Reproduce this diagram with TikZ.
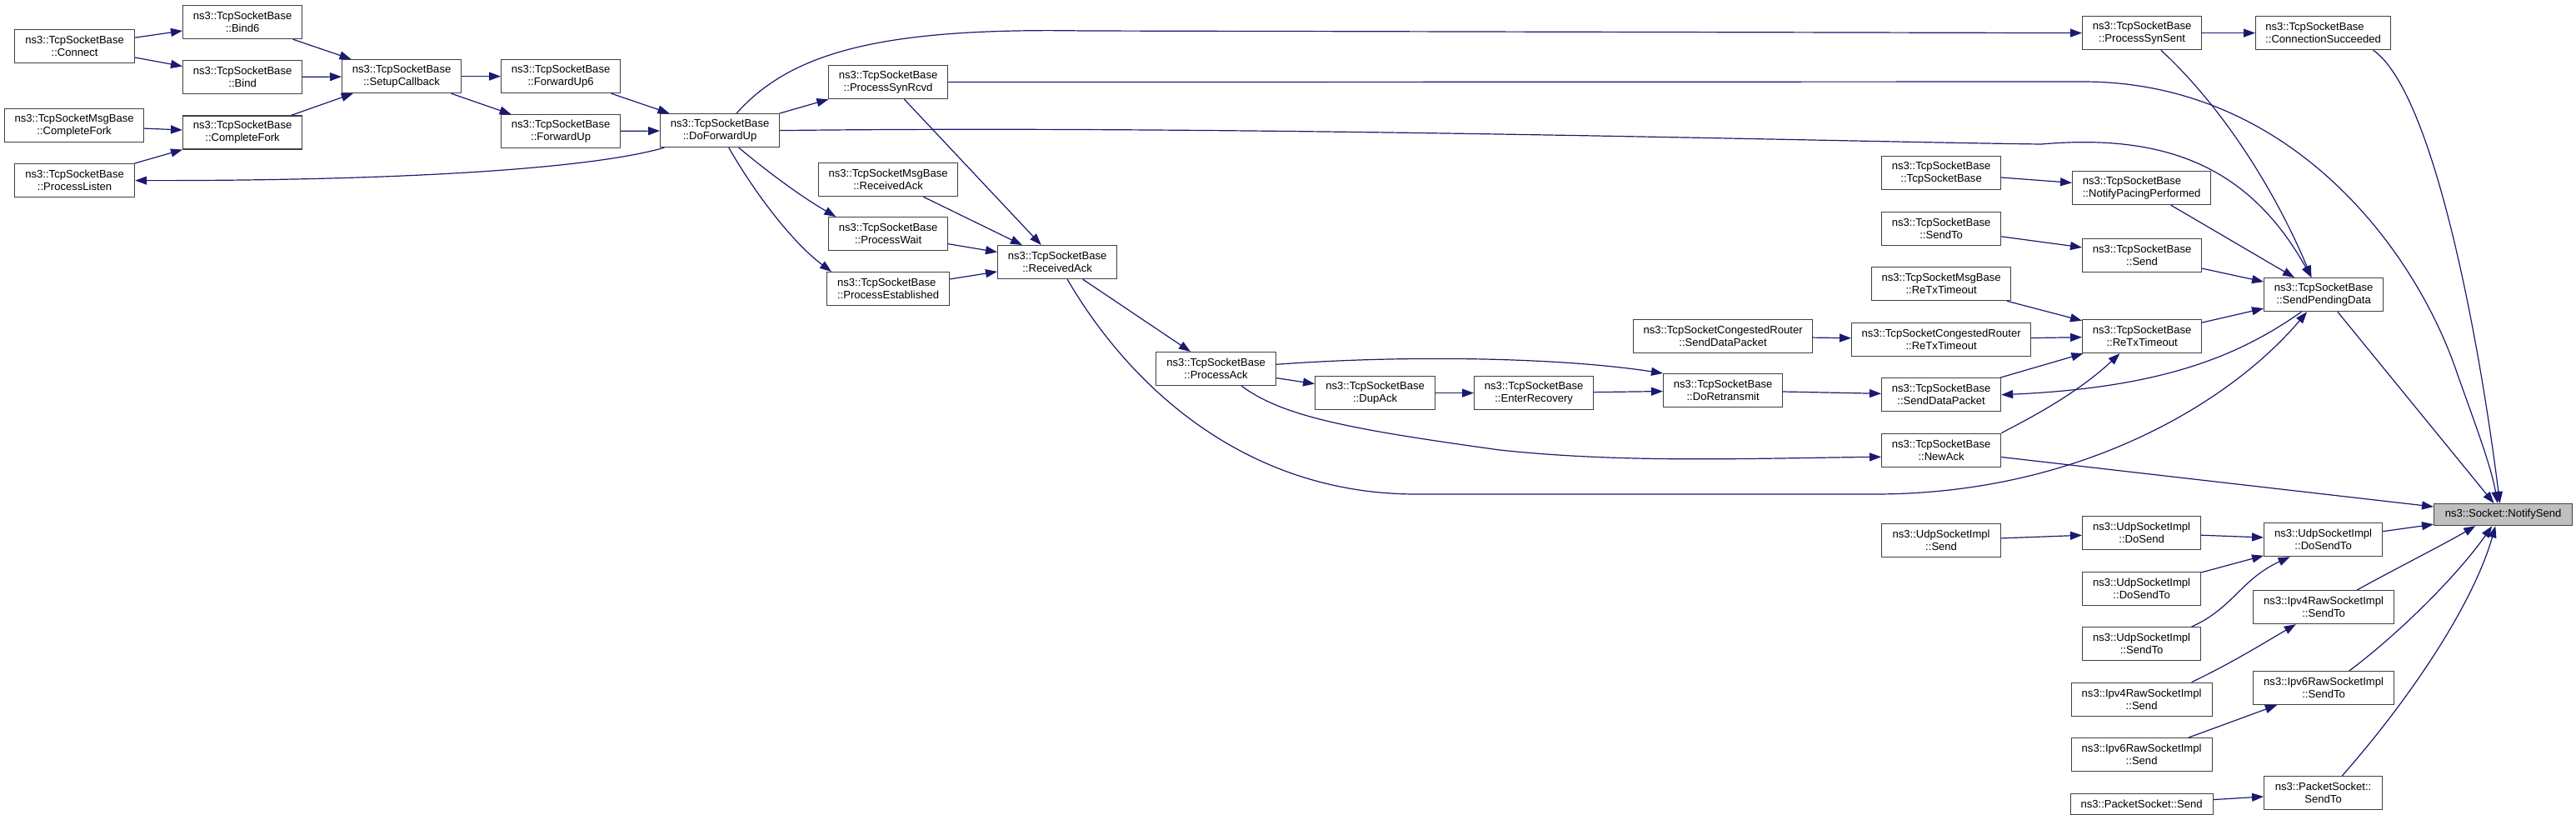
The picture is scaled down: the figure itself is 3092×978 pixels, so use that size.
\documentclass[tikz,border=0pt]{standalone}
\usepackage{fontspec}
\setmainfont{Liberation Sans}
\usetikzlibrary{arrows.meta}
\definecolor{edgeblue}{HTML}{191970}
\definecolor{rootgray}{HTML}{BFBFBF}
\begin{document}
\begin{tikzpicture}[x=0.75pt,y=-0.75pt,>={Triangle[length=10.5pt,width=7.5pt]}]
\begin{scope}

\tikzstyle{funcnode} = [draw=black!75,line width=0.9pt,fill=white,align=center,inner sep=1pt,minimum height=30pt,font=\fontsize{9.8}{11.25}\selectfont];
\tikzstyle{rootnode} = [funcnode,fill=rootgray,minimum height=19.5pt];
\tikzstyle{callline} = [draw=edgeblue,line width=0.9pt];

\useasboundingbox (0,0) rectangle (3092,978);

\node [funcnode,anchor=north west,minimum width=108pt] (connect) at (17,35) {ns3::TcpSocketBase\\::Connect};
\node [funcnode,anchor=north west,minimum width=107.25pt] (bindsix) at (219,6) {ns3::TcpSocketBase\\::Bind6};
\node [funcnode,anchor=north,minimum width=107.25pt] (bind) at ([yshift=-18.75pt]bindsix.south) {ns3::TcpSocketBase\\::Bind};
\node [funcnode,anchor=north,minimum width=107.25pt] (fork) at ([yshift=-18.75pt]bind.south) {ns3::TcpSocketBase\\::CompleteFork};
\node [funcnode,anchor=north west,minimum width=125.25pt] (msgfork) at (5,130) {ns3::TcpSocketMsgBase\\::CompleteFork};
\node [funcnode,anchor=north west,minimum width=108pt] (listen) at (17,196) {ns3::TcpSocketBase\\::ProcessListen};
\node [funcnode,anchor=north west,minimum width=107.25pt] (setup) at (410,71) {ns3::TcpSocketBase\\::SetupCallback};
\node [funcnode,anchor=north west,minimum width=107.25pt] (fwdsix) at (601,71) {ns3::TcpSocketBase\\::ForwardUp6};
\node [funcnode,anchor=north,minimum width=107.25pt] (fwd) at ([yshift=-18.75pt]fwdsix.south) {ns3::TcpSocketBase\\::ForwardUp};
\node [funcnode,anchor=north west,minimum width=107.25pt] (dofwd) at (792,136) {ns3::TcpSocketBase\\::DoForwardUp};

\node [funcnode,anchor=north west,minimum width=107.25pt] (synrcvd) at (994,78) {ns3::TcpSocketBase\\::ProcessSynRcvd};
\node [funcnode,anchor=north west,minimum width=125.25pt] (msgrack) at (982,195) {ns3::TcpSocketMsgBase\\::ReceivedAck};
\node [funcnode,anchor=north west,minimum width=107.25pt] (wait) at (994,260) {ns3::TcpSocketBase\\::ProcessWait};
\node [funcnode,anchor=north west,minimum width=110.25pt,align=left] (estab) at (992,326) {ns3::TcpSocketBase\\::ProcessEstablished};
\node [funcnode,anchor=north west,minimum width=107.25pt] (rack) at (1197,294) {ns3::TcpSocketBase\\::ReceivedAck};
\node [funcnode,anchor=north west,minimum width=108pt] (pack) at (1387,422) {ns3::TcpSocketBase\\::ProcessAck};
\node [funcnode,anchor=north west,minimum width=108pt] (dupack) at (1578,451) {ns3::TcpSocketBase\\::DupAck};
\node [funcnode,anchor=north west,minimum width=107.25pt] (recovery) at (1769,451) {ns3::TcpSocketBase\\::EnterRecovery};
\node [funcnode,anchor=north west,minimum width=161.25pt] (crsend) at (1960,383) {ns3::TcpSocketCongestedRouter\\::SendDataPacket};
\node [funcnode,anchor=north west,minimum width=107.25pt] (retrans) at (1996,448) {ns3::TcpSocketBase\\::DoRetransmit};

\node [funcnode,anchor=north west,minimum width=107.25pt] (tcpbase) at (2258,187) {ns3::TcpSocketBase\\::TcpSocketBase};
\node [funcnode,anchor=north,minimum width=107.25pt] (tcpsendto) at ([yshift=-19pt]tcpbase.south) {ns3::TcpSocketBase\\::SendTo};
\node [funcnode,anchor=north,minimum width=125.25pt] (msgretx) at ([yshift=-19pt]tcpsendto.south) {ns3::TcpSocketMsgBase\\::ReTxTimeout};
\node [funcnode,anchor=north,minimum width=161.25pt] (crretx) at ([yshift=-19pt]msgretx.south) {ns3::TcpSocketCongestedRouter\\::ReTxTimeout};
\node [funcnode,anchor=north,minimum width=107.25pt] (senddata) at ([yshift=-19pt]crretx.south) {ns3::TcpSocketBase\\::SendDataPacket};
\node [funcnode,anchor=north,minimum width=107.25pt] (newack) at ([yshift=-19pt]senddata.south) {ns3::TcpSocketBase\\::NewAck};
\node [funcnode,anchor=north west,minimum width=107.25pt] (udpsend) at (2258,628) {ns3::UdpSocketImpl\\::Send};

\node [funcnode,anchor=north west,minimum width=107.25pt] (synsent) at (2499,19) {ns3::TcpSocketBase\\::ProcessSynSent};
\node [funcnode,anchor=north west,minimum width=124.5pt,align=left] (pacing) at (2487,205) {ns3::TcpSocketBase\\::NotifyPacingPerformed};
\node [funcnode,anchor=north west,minimum width=107.25pt] (tcpsend) at (2499,286) {ns3::TcpSocketBase\\::Send};
\node [funcnode,anchor=north west,minimum width=107.25pt] (retx) at (2499,383) {ns3::TcpSocketBase\\::ReTxTimeout};
\node [funcnode,anchor=north west,minimum width=106.5pt] (udpdosend) at (2499,619) {ns3::UdpSocketImpl\\::DoSend};
\node [funcnode,anchor=north,minimum width=106.5pt] (udpdosendtob) at ([yshift=-19pt]udpdosend.south) {ns3::UdpSocketImpl\\::DoSendTo};
\node [funcnode,anchor=north,minimum width=106.5pt] (udpsendto) at ([yshift=-19pt]udpdosendtob.south) {ns3::UdpSocketImpl\\::SendTo};
\node [funcnode,anchor=north,minimum width=126.75pt] (vfoursend) at ([yshift=-19pt]udpsendto.south) {ns3::Ipv4RawSocketImpl\\::Send};
\node [funcnode,anchor=north,minimum width=126.75pt] (vsixsend) at ([yshift=-19pt]vfoursend.south) {ns3::Ipv6RawSocketImpl\\::Send};
\node [funcnode,anchor=north,minimum width=128.25pt,minimum height=18.75pt] (pktsend) at ([yshift=-19pt]vsixsend.south) {ns3::PacketSocket::Send};

\node [funcnode,anchor=north west,minimum width=121.5pt,align=left] (connsucc) at (2707,19) {ns3::TcpSocketBase\\::ConnectionSucceeded};
\node [funcnode,anchor=north west,minimum width=107.25pt] (pending) at (2717,333) {ns3::TcpSocketBase\\::SendPendingData};
\node [funcnode,anchor=north west,minimum width=106.5pt] (udpdosendto) at (2717,627) {ns3::UdpSocketImpl\\::DoSendTo};
\node [funcnode,anchor=north west,minimum width=126.75pt] (vfoursendto) at (2704,708) {ns3::Ipv4RawSocketImpl\\::SendTo};
\node [funcnode,anchor=north west,minimum width=126.75pt] (vsixsendto) at (2704,805) {ns3::Ipv6RawSocketImpl\\::SendTo};
\node [funcnode,anchor=north west,minimum width=106.5pt] (pktsendto) at (2717,931) {ns3::PacketSocket::\\SendTo};

\node [rootnode,anchor=north west,minimum width=124.5pt] (notify) at (2921,604) {ns3::Socket::NotifySend};

% left part
\draw [->,callline] (connect) -- (bindsix);
\draw [->,callline] (connect) -- (bind);
\draw [->,callline] (bindsix) -- (setup);
\draw [->,callline] (bind) -- (setup);
\draw [->,callline] (fork) -- (setup);
\draw [->,callline] (msgfork) -- (fork);
\draw [->,callline] (listen) -- (fork);
\draw [->,callline] (setup) -- (fwdsix);
\draw [->,callline] (setup) -- (fwd);
\draw [->,callline] (fwdsix) -- (dofwd);
\draw [->,callline] (fwd) -- (dofwd);
\draw [->,callline] ([xshift=4pt]dofwd.south west) .. controls (700,205) and (450,217) .. (listen.east);

% DoForwardUp
\draw [->,callline] (dofwd) -- (synrcvd);
\draw [->,callline] ([xshift=15pt]dofwd.north) .. controls (950,62) and (1060,33) .. (1300,37) -- (synsent.west);
\draw [->,callline] (dofwd.east) .. controls (1500,150) and (2200,170) .. (2450,173) .. controls (2600,160) and (2700,200) .. ([xshift=-11pt]pending.north);
\draw [->,callline] ([xshift=17pt]dofwd.south) .. controls (920,205) and (960,235) .. ([xshift=7pt]wait.north west);
\draw [->,callline] ([xshift=8pt]dofwd.south) .. controls (905,230) and (950,290) .. ([xshift=4.5pt]estab.north west);

% ReceivedAck
\draw [->,callline] (synrcvd) -- (rack);
\draw [->,callline] (synrcvd.east) -- (2500,98) .. controls (2750,98) and (2900,300) .. (2950,450) .. controls (2975,520) and (2990,560) .. ([xshift=-5pt]notify.north);
\draw [->,callline] (msgrack) -- (rack);
\draw [->,callline] (wait) -- (rack);
\draw [->,callline] (estab) -- (rack);
\draw [->,callline] (rack) -- (pack);
\draw [->,callline] ([xshift=9pt]rack.south) .. controls (1360,470) and (1500,593) .. (1700,593) -- (2250,593) .. controls (2500,593) and (2680,480) .. ([xshift=-15pt]pending.south);

% ProcessAck
\draw [->,callline] (pack) -- (dupack);
\draw [->,callline] ([yshift=4pt]pack.east) .. controls (1700,425) and (1880,430) .. (retrans.north west);
\draw [->,callline] ([xshift=23pt]pack.south) .. controls (1540,500) and (1620,515) .. (1800,540) .. controls (1950,556) and (2100,550) .. ([yshift=-6pt]newack.west);
\draw [->,callline] (dupack) -- (recovery);
\draw [->,callline] (recovery) -- (retrans);
\draw [->,callline] (retrans) -- (senddata);
\draw [->,callline] (crsend) -- (crretx);
\draw [->,callline] (crretx) -- (retx);
\draw [->,callline] (msgretx) -- (retx);
\draw [->,callline] (senddata) -- (retx);
\draw [->,callline] (newack.north east) .. controls (2430,505) and (2490,475) .. ([xshift=-20pt]retx.south);
\draw [->,callline] (newack) -- (notify);

% SendPendingData
\draw [->,callline] (tcpbase) -- (pacing);
\draw [->,callline] (tcpsendto) -- (tcpsend);
\draw [->,callline] (pacing) -- (pending);
\draw [->,callline] (tcpsend) -- (pending);
\draw [->,callline] (retx) -- (pending);
\draw [->,callline] (synsent) -- (connsucc);
\draw [->,callline] ([xshift=17pt]synsent.south) .. controls (2680,140) and (2740,250) .. ([xshift=-11pt]pending.north);
\draw [->,callline] ([xshift=-20pt]pending.south) .. controls (2690,425) and (2600,465) .. (senddata.east);
\draw [->,callline] (pending) -- (notify);
\draw [->,callline] ([xshift=45pt]connsucc.south) .. controls (2920,110) and (2975,400) .. ([xshift=-3pt]notify.north);

% udp, raw and packet sockets
\draw [->,callline] (udpsend) -- (udpdosend);
\draw [->,callline] (udpdosend) -- (udpdosendto);
\draw [->,callline] (udpdosendtob) -- (udpdosendto);
\draw [->,callline] ([xshift=45pt]udpsendto.north) .. controls (2680,730) and (2690,695) .. ([xshift=-30pt]udpdosendto.south);
\draw [->,callline] (udpdosendto) -- (notify);
\draw [->,callline] ([xshift=45pt]vfoursend.north) .. controls (2680,795) and (2720,770) .. ([xshift=-25pt]vfoursendto.south);
\draw [->,callline] (vsixsend) -- (vsixsendto);
\draw [->,callline] (pktsend) -- (pktsendto);
\draw [->,callline] ([xshift=30pt]vfoursendto.north) .. controls (2880,680) and (2930,655) .. ([xshift=-25pt]notify.south);
\draw [->,callline] ([xshift=23pt]vsixsendto.north) .. controls (2880,760) and (2950,690) .. ([xshift=-10pt]notify.south);
\draw [->,callline] ([xshift=17pt]pktsendto.north) .. controls (2900,830) and (2970,720) .. ([xshift=-7pt]notify.south);

\end{scope}
\end{tikzpicture}
\end{document}
